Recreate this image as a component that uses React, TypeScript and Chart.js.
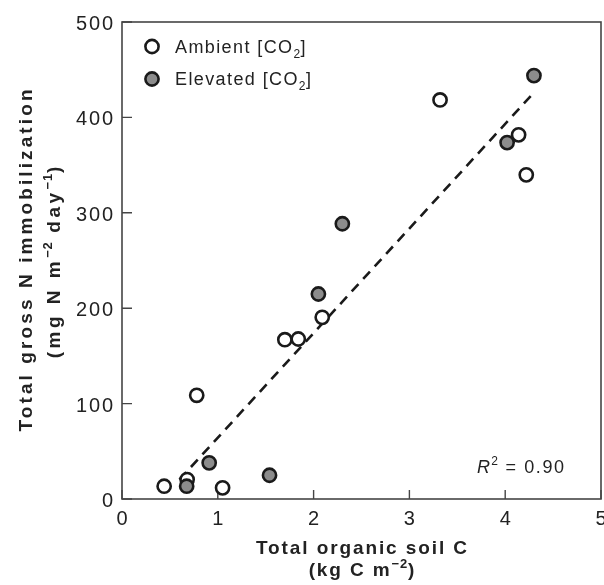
import React, { useEffect, useRef } from "react";
import { Chart, registerables } from "chart.js";

Chart.register(...registerables);

// ---- data ----
const ambientX = [0.44, 0.68, 0.78, 1.05, 1.70, 1.84, 2.09, 3.32, 4.14, 4.22];
const ambientY = [13.4, 20.4, 108.7, 11.7, 167, 167.7, 190.4, 418.3, 381.7, 339.8];
const elevatedX = [0.675, 0.91, 1.54, 2.05, 2.30, 4.02, 4.30];
const elevatedY = [13.4, 37.9, 24.9, 214.9, 288.5, 373.6, 443.8];
const fitX = [0.6, 4.29];
const fitY = [20.4, 425];
const xTicks = [0, 1, 2, 3, 4, 5];
const yTicks = [0, 100, 200, 300, 400, 500];
const legendLabels = ["Ambient [CO", "Elevated [CO"];
const r2Text = "0.90";

const FONT = '"Liberation Sans", Arial, Helvetica, sans-serif';
const INK = "#222222";
const FRAME = "#454545";
const GRAY = "#8c8c8c";
const EDGE = "#1a1a1a";

type Part = { t: string; size: number; bold?: boolean; italic?: boolean; dy?: number; ls?: number };

function setFont(ctx: CanvasRenderingContext2D, p: Part) {
  ctx.font = `${p.italic ? "italic " : ""}${p.bold ? "bold " : ""}${p.size}px ${FONT}`;
  (ctx as any).letterSpacing = `${p.ls ?? 0}px`;
}

function measureParts(ctx: CanvasRenderingContext2D, parts: Part[]) {
  let w = 0;
  for (const p of parts) {
    setFont(ctx, p);
    w += ctx.measureText(p.t).width;
  }
  const last = parts[parts.length - 1];
  return w - (last.ls ?? 0);
}

function drawParts(ctx: CanvasRenderingContext2D, parts: Part[], x: number, y: number, align: "left" | "center" | "right") {
  const w = measureParts(ctx, parts);
  let cx = align === "left" ? x : align === "center" ? x - w / 2 : x - w;
  ctx.textAlign = "left";
  ctx.textBaseline = "alphabetic";
  for (const p of parts) {
    setFont(ctx, p);
    ctx.fillText(p.t, cx, y + (p.dy ?? 0));
    cx += ctx.measureText(p.t).width;
  }
}

function marker(ctx: CanvasRenderingContext2D, x: number, y: number, fill: string) {
  ctx.beginPath();
  ctx.arc(x, y, 6.6, 0, Math.PI * 2);
  ctx.fillStyle = fill;
  ctx.fill();
  ctx.lineWidth = 2.6;
  ctx.strokeStyle = EDGE;
  ctx.stroke();
}

const decor = {
  id: "decor",
  beforeDatasetsDraw(chart: any) {
    const ctx: CanvasRenderingContext2D = chart.ctx;
    const a = chart.chartArea;
    const xs = chart.scales.x;
    const ys = chart.scales.y;
    ctx.save();
    ctx.strokeStyle = FRAME;
    ctx.lineWidth = 1.6;
    ctx.strokeRect(a.left, a.top, a.right - a.left, a.bottom - a.top);
    ctx.lineWidth = 1.4;
    ctx.beginPath();
    for (const v of xTicks) {
      const px = xs.getPixelForValue(v);
      ctx.moveTo(px, a.bottom);
      ctx.lineTo(px, a.bottom - 9);
    }
    for (const v of yTicks) {
      const py = ys.getPixelForValue(v);
      ctx.moveTo(a.left, py);
      ctx.lineTo(a.left + 10, py);
    }
    ctx.stroke();
    ctx.restore();
  },
  afterDraw(chart: any) {
    const ctx: CanvasRenderingContext2D = chart.ctx;
    const a = chart.chartArea;
    const xs = chart.scales.x;
    const ys = chart.scales.y;
    ctx.save();
    ctx.fillStyle = INK;
    // tick labels
    for (const v of xTicks) {
      const px = xs.getPixelForValue(v);
      drawParts(ctx, [{ t: String(v), size: 20, ls: 1.5 }], px, a.bottom + 26, "center");
    }
    for (const v of yTicks) {
      const py = ys.getPixelForValue(v);
      drawParts(ctx, [{ t: String(v), size: 20, ls: 1.8 }], a.left - 9, py + 8, "right");
    }
    // x title
    const xc = (a.left + a.right) / 2;
    drawParts(ctx, [{ t: "Total organic soil C", size: 19, bold: true, ls: 1.9 }], xc, 554, "center");
    drawParts(
      ctx,
      [
        { t: "(kg C m", size: 19, bold: true, ls: 1.9 },
        { t: "\u22122", size: 13, bold: true, dy: -8, ls: 0.8 },
        { t: ")", size: 19, bold: true, ls: 1.9 },
      ],
      xc,
      576,
      "center"
    );
    // y title
    const yc = (a.top + a.bottom) / 2;
    ctx.save();
    ctx.translate(31.5, yc);
    ctx.rotate(-Math.PI / 2);
    drawParts(ctx, [{ t: "Total gross N immobilization", size: 19, bold: true, ls: 3.1 }], 0, 0, "center");
    ctx.restore();
    ctx.save();
    ctx.translate(60, yc + 2);
    ctx.rotate(-Math.PI / 2);
    drawParts(
      ctx,
      [
        { t: "(mg N m", size: 19, bold: true, ls: 3.5 },
        { t: "\u22122", size: 13, bold: true, dy: -8, ls: 0.8 },
        { t: " day", size: 19, bold: true, ls: 3.5 },
        { t: "\u22121", size: 13, bold: true, dy: -8, ls: 0.8 },
        { t: ")", size: 19, bold: true, ls: 3.5 },
      ],
      0,
      0,
      "center"
    );
    ctx.restore();
    // legend
    const fills = ["#ffffff", GRAY];
    const rows = [52.5, 85];
    legendLabels.forEach((lab, i) => {
      marker(ctx, 152, rows[i] - 6, fills[i]);
      ctx.fillStyle = INK;
      drawParts(
        ctx,
        [
          { t: lab, size: 18, ls: 1.4 },
          { t: "2", size: 12, dy: 5, ls: 0.5 },
          { t: "]", size: 18, ls: 1.4 },
        ],
        175,
        rows[i],
        "left"
      );
    });
    // R^2
    ctx.fillStyle = INK;
    drawParts(
      ctx,
      [
        { t: "R", size: 18, italic: true, ls: 1.2 },
        { t: "2", size: 12, dy: -8, ls: 1 },
        { t: " = " + r2Text, size: 18, ls: 1.6 },
      ],
      477,
      473,
      "left"
    );
    ctx.restore();
  },
};

export default function App() {
  const ref = useRef<HTMLCanvasElement | null>(null);
  useEffect(() => {
    document.body.style.margin = "0";
    if (!ref.current) return;
    const chart = new Chart(ref.current, {
      type: "scatter",
      data: {
        datasets: [
          {
            label: "Elevated",
            data: elevatedX.map((x, i) => ({ x, y: elevatedY[i] })),
            backgroundColor: GRAY,
            borderColor: EDGE,
            borderWidth: 2.6,
            pointRadius: 6.6,
            order: 0,
          },
          {
            label: "Ambient",
            data: ambientX.map((x, i) => ({ x, y: ambientY[i] })),
            backgroundColor: "#ffffff",
            borderColor: EDGE,
            borderWidth: 2.6,
            pointRadius: 6.6,
            order: 1,
          },
          {
            label: "Fit",
            type: "line",
            data: fitX.map((x, i) => ({ x, y: fitY[i] })),
            borderColor: EDGE,
            borderWidth: 2.6,
            borderDash: [10, 7],
            pointRadius: 0,
            fill: false,
            order: 2,
          } as any,
        ],
      },
      options: {
        animation: false,
        responsive: false,
        layout: { autoPadding: false, padding: { top: 22, right: 3, left: 0, bottom: 0 } },
        plugins: { legend: { display: false }, tooltip: { enabled: false } },
        scales: {
          x: {
            type: "linear",
            min: 0,
            max: 5,
            grid: { display: false },
            border: { display: false },
            ticks: { display: false, stepSize: 1 },
            afterFit: (s: any) => {
              s.height = 86;
              s.paddingLeft = 0;
              s.paddingRight = 0;
            },
          },
          y: {
            type: "linear",
            min: 0,
            max: 500,
            grid: { display: false },
            border: { display: false },
            ticks: { display: false, stepSize: 100 },
            afterFit: (s: any) => {
              s.width = 122;
              s.paddingTop = 0;
              s.paddingBottom = 0;
            },
          },
        },
      },
      plugins: [decor],
    } as any);
    return () => chart.destroy();
  }, []);
  return (
    <div style={{ width: 604, height: 585 }}>
      <canvas ref={ref} width={604} height={585} />
    </div>
  );
}
